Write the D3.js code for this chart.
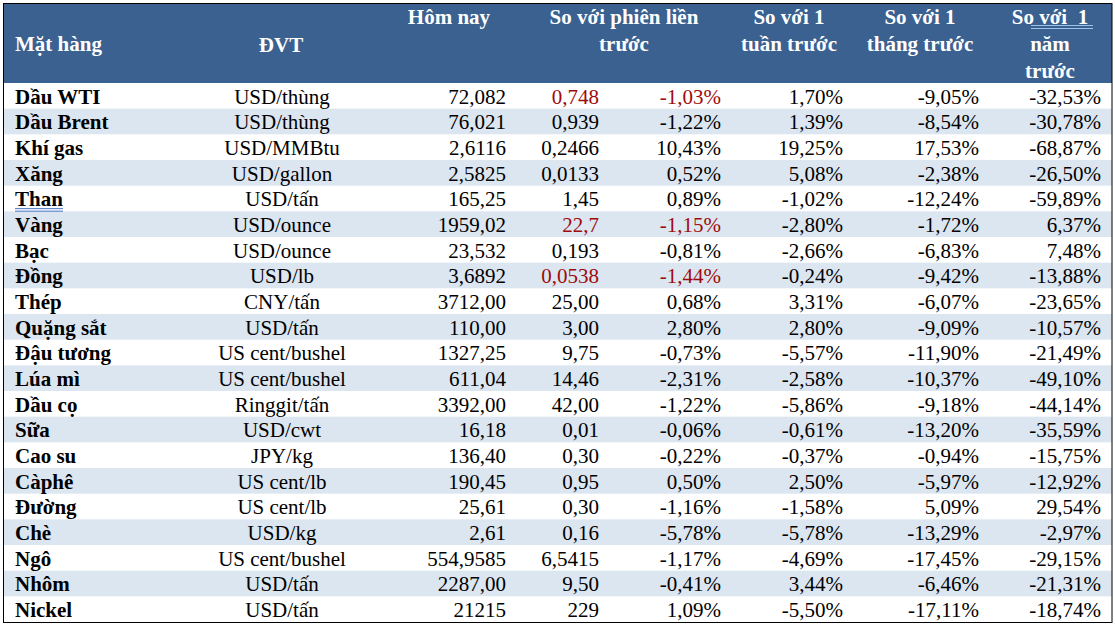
<!DOCTYPE html>
<html><head><meta charset="utf-8">
<script src="https://cdn.jsdelivr.net/npm/d3@7"></script>
<style>
html,body{margin:0;padding:0;background:#fff;}
svg{display:block;font-family:"Liberation Serif","Times New Roman",serif;}
</style></head>
<body>
<svg id="chart" width="1115" height="626"></svg>
<script>
const items = ["Dầu WTI","Dầu Brent","Khí gas","Xăng","Than","Vàng","Bạc","Đồng","Thép","Quặng sắt","Đậu tương","Lúa mì","Dầu cọ","Sữa","Cao su","Càphê","Đường","Chè","Ngô","Nhôm","Nickel"];
const units = ["USD/thùng","USD/thùng","USD/MMBtu","USD/gallon","USD/tấn","USD/ounce","USD/ounce","USD/lb","CNY/tấn","USD/tấn","US cent/bushel","US cent/bushel","Ringgit/tấn","USD/cwt","JPY/kg","US cent/lb","US cent/lb","USD/kg","US cent/bushel","USD/tấn","USD/tấn"];
const today = ["72,082","76,021","2,6116","2,5825","165,25","1959,02","23,532","3,6892","3712,00","110,00","1327,25","611,04","3392,00","16,18","136,40","190,45","25,61","2,61","554,9585","2287,00","21215"];
const changeAbs = ["0,748","0,939","0,2466","0,0133","1,45","22,7","0,193","0,0538","25,00","3,00","9,75","14,46","42,00","0,01","0,30","0,95","0,30","0,16","6,5415","9,50","229"];
const changePct = ["-1,03%","-1,22%","10,43%","0,52%","0,89%","-1,15%","-0,81%","-1,44%","0,68%","2,80%","-0,73%","-2,31%","-1,22%","-0,06%","-0,22%","0,50%","-1,16%","-5,78%","-1,17%","-0,41%","1,09%"];
const weekPct = ["1,70%","1,39%","19,25%","5,08%","-1,02%","-2,80%","-2,66%","-0,24%","3,31%","2,80%","-5,57%","-2,58%","-5,86%","-0,61%","-0,37%","2,50%","-1,58%","-5,78%","-4,69%","3,44%","-5,50%"];
const monthPct = ["-9,05%","-8,54%","17,53%","-2,38%","-12,24%","-1,72%","-6,83%","-9,42%","-6,07%","-9,09%","-11,90%","-10,37%","-9,18%","-13,20%","-0,94%","-5,97%","5,09%","-13,29%","-17,45%","-6,46%","-17,11%"];
const yearPct = ["-32,53%","-30,78%","-68,87%","-26,50%","-59,89%","6,37%","7,48%","-13,88%","-23,65%","-10,57%","-21,49%","-49,10%","-44,14%","-35,59%","-15,75%","-12,92%","29,54%","-2,97%","-29,15%","-21,31%","-18,74%"];
const redRows = ["Dầu WTI","Vàng","Đồng"];
const headers = [
  {key:"item", lines:["","Mặt hàng"]},
  {key:"unit", lines:["","ĐVT"]},
  {key:"today", lines:["Hôm nay"]},
  {key:"session", lines:["So với phiên liền","trước"]},
  {key:"week", lines:["So với 1","tuần trước"]},
  {key:"month", lines:["So với 1","tháng trước"]},
  {key:"year", lines:["So với  1","năm","trước"]}
];

const tLeft = 4, tRight = 1112, tTop = 4, headBottom = 83, tBottom = 622;
const svg = d3.select("#chart");

const rows = items.map((name,i)=>({name, unit:units[i], today:today[i], abs:changeAbs[i], pct:changePct[i], week:weekPct[i], month:monthPct[i], year:yearPct[i], red: redRows.includes(name)}));

const y = d3.scaleBand().domain(d3.range(rows.length)).range([headBottom, tBottom]).padding(0);

svg.append("rect").attr("x",tLeft).attr("y",tTop).attr("width",tRight-tLeft).attr("height",headBottom-tTop).attr("fill","#3A6190");

svg.selectAll("rect.row").data(rows).join("rect").attr("class","row")
  .attr("x",tLeft).attr("y",(d,i)=>y(i)).attr("width",tRight-tLeft).attr("height",y.bandwidth()+0.5)
  .attr("fill",(d,i)=> i%2===1 ? "#DCE6F1" : "#FFFFFF");

const headX = {item:15, unit:281, today:449, session:624, week:789, month:920, year:1050};
const headAnchor = {item:"start", unit:"middle", today:"middle", session:"middle", week:"middle", month:"middle", year:"middle"};
const lineY = [24, 51, 78];
headers.forEach(h=>{
  h.lines.forEach((ln,li)=>{
    if(!ln) return;
    svg.append("text").attr("x",headX[h.key]).attr("y", h.key==="unit"? 52 : lineY[li])
      .attr("text-anchor",headAnchor[h.key]).attr("fill","#fff").attr("font-weight","bold")
      .attr("font-size",21).attr("xml:space","preserve").style("white-space","pre").text(ln);
  });
});
[25.5, 28.5].forEach(yy=>{
  svg.append("line").attr("x1",1031).attr("x2",1093).attr("y1",yy).attr("y2",yy).attr("stroke","#9DC3E6").attr("stroke-width",1.2);
});

const cols = [
  {key:"name", x:15, anchor:"start", bold:true},
  {key:"unit", x:282, anchor:"middle"},
  {key:"today", x:506, anchor:"end"},
  {key:"abs", x:599, anchor:"end", red:true},
  {key:"pct", x:721, anchor:"end", red:true},
  {key:"week", x:843, anchor:"end"},
  {key:"month", x:979, anchor:"end"},
  {key:"year", x:1101, anchor:"end"}
];
const g = svg.selectAll("g.r").data(rows).join("g").attr("class","r").attr("transform",(d,i)=>`translate(0,${y(i)+20.5})`);
cols.forEach(c=>{
  g.append("text").attr("x",c.x).attr("y",0).attr("text-anchor",c.anchor)
    .attr("font-size",21).attr("font-weight",c.bold?"bold":"normal")
    .attr("fill",d=> (c.red && d.red) ? "#9E0B0B" : "#000")
    .text(d=>d[c.key]);
});
const thanIdx = items.indexOf("Than");
[y(thanIdx)+23, y(thanIdx)+25.5].forEach(yy=>{
  svg.append("line").attr("x1",15).attr("x2",63).attr("y1",yy).attr("y2",yy).attr("stroke","#4472C4").attr("stroke-width",1);
});

svg.append("rect").attr("x",3.5).attr("y",3.5).attr("width",tRight-3.5).attr("height",tBottom-3.5+0.5)
  .attr("fill","none").attr("stroke","#000").attr("stroke-width",1);
</script>
</body></html>
